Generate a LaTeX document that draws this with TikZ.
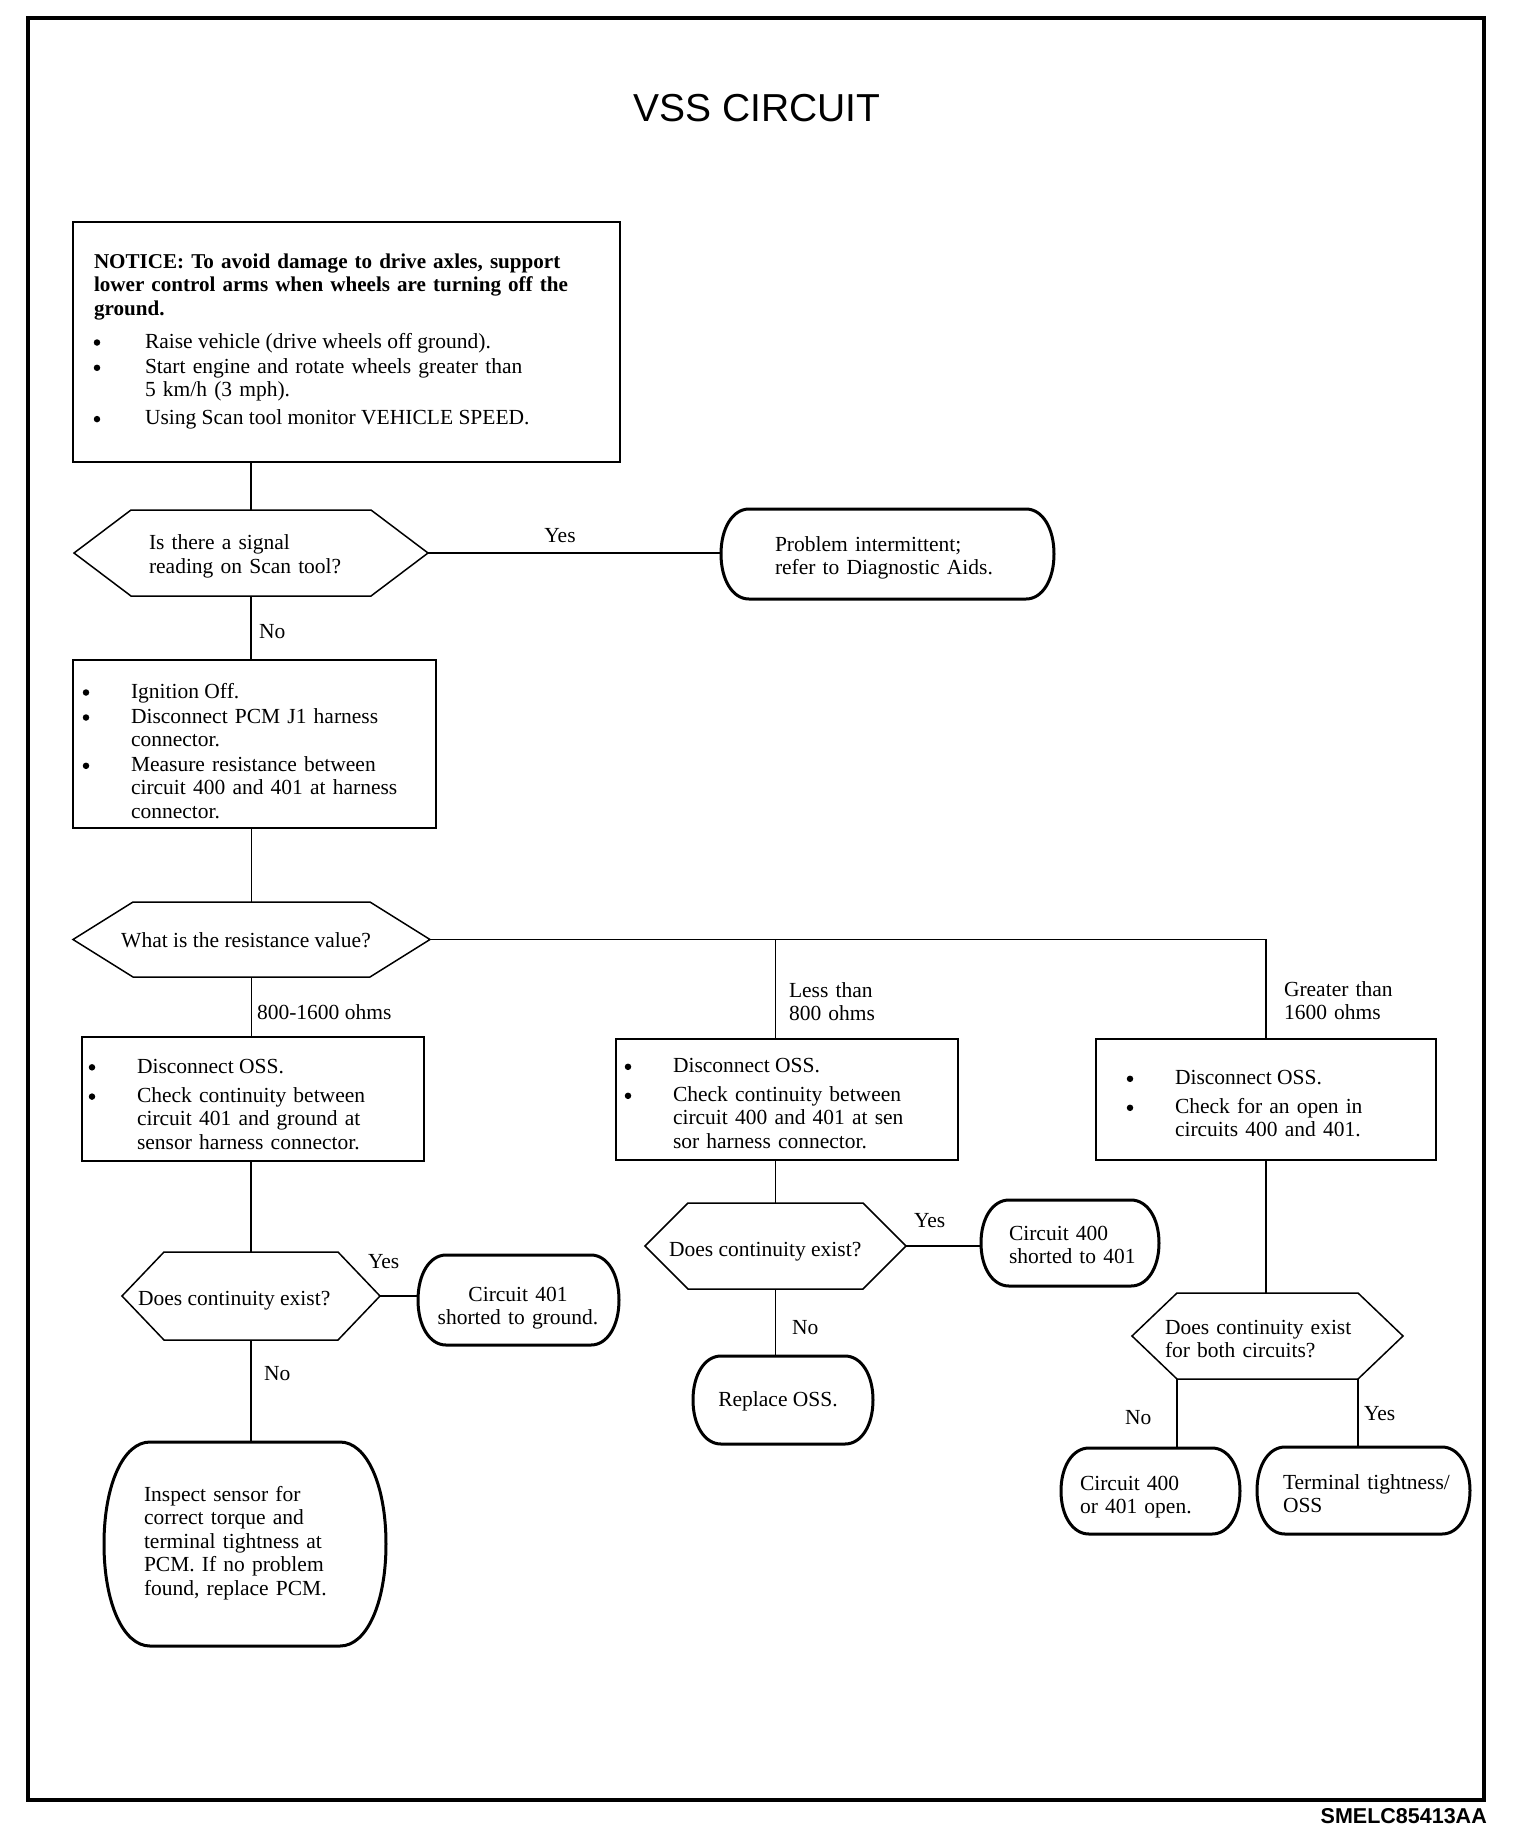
\documentclass[tikz,border=0pt]{standalone}
\usepackage{fontspec}
\setmainfont{Liberation Serif}
\newfontfamily\sansf{Liberation Sans}
\newcommand\bodyfont{\fontsize{21.5}{23.5}\selectfont}
\newcommand\boldbody{\bfseries\fontsize{21.1}{23.5}\selectfont}
\tikzset{
  shapebox/.style={draw=none, inner sep=0pt, outer sep=0pt},
  boxline/.style={draw, line width=1.7pt},
  hexline/.style={line width=1.5pt},
  termline/.style={line width=3pt},
  conn/.style={line width=1.6pt},
  txt/.style={inner sep=0pt, outer sep=0pt, font=\bodyfont, align=left},
  mtxt/.style={txt, text width=#1, anchor=base west, yshift=-2.3pt},
  lbl/.style={txt, anchor=mid west, yshift=-5.3pt},
  ctxt/.style={txt, anchor=mid, yshift=-5.3pt},
  bul/.style={circle, fill, draw=none, inner sep=0pt, minimum size=6.5pt, yshift=-1.8pt},
}
\newcommand\rbox[5]{%
  \node[shapebox, boxline, minimum width={#4-#2}, minimum height={#5-#3}] (#1) at ({(#2+#4)/2},{(#3+#5)/2}) {};}
\newcommand\hexa[6]{%
  \node[shapebox, minimum width={#4-#2}, minimum height={#5-#3}] (#1) at ({(#2+#4)/2},{(#3+#5)/2}) {};
  \draw[hexline] (#1.west) -- ([xshift=#6]#1.north west) -- ([xshift=-#6]#1.north east) -- (#1.east)
    -- ([xshift=-#6]#1.south east) -- ([xshift=#6]#1.south west) -- cycle;}
\newcommand\term[6]{%
  \node[shapebox, minimum width={#4-#2}, minimum height={#5-#3}] (#1) at ({(#2+#4)/2},{(#3+#5)/2}) {};
  \draw[termline, line join=round] ([xshift=#6]#1.north west) -- ([xshift=-#6]#1.north east)
    .. controls ([xshift={-0.42*#6}]#1.north east) and ([yshift={0.29*(#5-#3)}]#1.east) .. (#1.east)
    .. controls ([yshift={-0.29*(#5-#3)}]#1.east) and ([xshift={-0.42*#6}]#1.south east) .. ([xshift=-#6]#1.south east)
    -- ([xshift=#6]#1.south west)
    .. controls ([xshift={0.42*#6}]#1.south west) and ([yshift={-0.29*(#5-#3)}]#1.west) .. (#1.west)
    .. controls ([yshift={0.29*(#5-#3)}]#1.west) and ([xshift={0.42*#6}]#1.north west) .. ([xshift=#6]#1.north west)
    -- cycle;}
\begin{document}
\begin{tikzpicture}[x=1pt,y=-1pt]
\useasboundingbox (0,0) rectangle (1520,1842);
\draw[line width=4pt] (28,18) rectangle (1484,1800);

\node[inner sep=0pt, font=\sansf\fontsize{39}{40}\selectfont] (title) at (757,108) {VSS CIRCUIT};
\node[inner sep=0pt, anchor=east, font=\sansf\bfseries\fontsize{21.5}{22}\selectfont] (code) at (1487,1816) {SMELC85413AA};

% Notice box
\rbox{n0}{73}{222}{620}{462}
\node[mtxt=520pt, font=\boldbody] (n0t) at (94,266) {NOTICE: To avoid damage to drive axles, support\\lower control arms when wheels are turning off the\\ground.};
\node[bul] (n0b1) at (97,340.7) {};
\node[bul] (n0b2) at (97,366) {};
\node[bul] (n0b3) at (97,417.3) {};
\node[lbl] (n0i1) at (145,340.7) {Raise vehicle (drive wheels off ground).};
\node[mtxt=460pt] (n0i2) at (145,371) {Start engine and rotate wheels greater than\\5 km/h (3 mph).};
\node[lbl] (n0i3) at (145,417.3) {Using Scan tool monitor VEHICLE SPEED.};

% Decision 1
\hexa{h1}{74}{510}{428}{596}{57}
\node[mtxt=260pt] (h1t) at (149,547.5) {Is there a signal\\reading on Scan tool?};
\term{t1}{721}{509}{1054}{599}{28}
\node[mtxt=300pt] (t1t) at (775,549) {Problem intermittent;\\refer to Diagnostic Aids.};
\node[ctxt] (y1) at (560,535) {Yes};
\node[lbl] (no1) at (259,631) {No};

% Box 2
\rbox{b2}{73}{660}{436}{828}
\node[bul] (b2b1) at (86,690.7) {};
\node[bul] (b2b2) at (86,715.7) {};
\node[bul] (b2b3) at (86,764) {};
\node[lbl] (b2i1) at (131,690.7) {Ignition Off.};
\node[mtxt=300pt] (b2i2) at (131,721) {Disconnect PCM J1 harness\\connector.};
\node[mtxt=300pt] (b2i3) at (131,769) {Measure resistance between\\circuit 400 and 401 at harness\\connector.};

% Decision 2
\hexa{h2}{73}{902}{430}{977}{60}
\node[ctxt] (h2t) at (246,940) {What is the resistance value?};
\node[lbl] (l800) at (257,1012) {800-1600 ohms};
\node[mtxt=150pt] (lless) at (789,995) {Less than\\800 ohms};
\node[mtxt=150pt] (lgreat) at (1284,994) {Greater than\\1600 ohms};

% Box 3
\rbox{b3}{82}{1037}{424}{1161}
\node[bul] (b3b1) at (92,1065.5) {};
\node[bul] (b3b2) at (92,1094.8) {};
\node[lbl] (b3i1) at (137,1065.5) {Disconnect OSS.};
\node[mtxt=280pt] (b3i2) at (137,1100) {Check continuity between\\circuit 401 and ground at\\sensor harness connector.};

% Box 4
\rbox{b4}{616}{1039}{958}{1160}
\node[bul] (b4b1) at (628,1065) {};
\node[bul] (b4b2) at (628,1094) {};
\node[lbl] (b4i1) at (673,1065) {Disconnect OSS.};
\node[mtxt=280pt] (b4i2) at (673,1099) {Check continuity between\\circuit 400 and 401 at sen\\sor harness connector.};

% Box 5
\rbox{b5}{1096}{1039}{1436}{1160}
\node[bul] (b5b1) at (1130,1077) {};
\node[bul] (b5b2) at (1130,1106) {};
\node[lbl] (b5i1) at (1175,1077) {Disconnect OSS.};
\node[mtxt=250pt] (b5i2) at (1175,1111) {Check for an open in\\circuits 400 and 401.};

% Decision 3 (left)
\hexa{h3}{122}{1252}{380}{1340}{42}
\node[lbl] (h3t) at (138,1298) {Does continuity exist?};
\node[lbl] (y3) at (368,1261) {Yes};
\term{t2}{418}{1255}{619}{1345}{28}
\node[txt, text width=220pt, align=center, anchor=base, yshift=-2.3pt] (t2t) at (518,1299) {Circuit 401\\shorted to ground.};
\node[lbl] (no3) at (264,1373) {No};
\term{t3}{104}{1442}{386}{1646}{46}
\node[mtxt=240pt] (t3t) at (144,1499) {Inspect sensor for\\correct torque and\\terminal tightness at\\PCM. If no problem\\found, replace PCM.};

% Decision 4 (middle)
\hexa{h4}{645}{1203}{906}{1289}{43}
\node[lbl] (h4t) at (669,1249) {Does continuity exist?};
\node[lbl] (y4) at (914,1220) {Yes};
\term{t4}{981}{1200}{1159}{1286}{28}
\node[mtxt=150pt] (t4t) at (1009,1238) {Circuit 400\\shorted to 401};
\node[lbl] (no4) at (792,1327) {No};
\term{t5}{693}{1356}{873}{1444}{28}
\node[ctxt] (t5t) at (778,1399) {Replace OSS.};

% Decision 5 (right)
\hexa{h5}{1132}{1293}{1403}{1379}{45}
\node[mtxt=240pt] (h5t) at (1165,1332) {Does continuity exist\\for both circuits?};
\coordinate (h5bl) at ([xshift=45pt]h5.south west);
\coordinate (h5br) at ([xshift=-45pt]h5.south east);
\node[lbl] (no5) at (1125,1417) {No};
\node[lbl] (y5) at (1364,1413) {Yes};
\term{t6}{1061}{1448}{1240}{1534}{28}
\node[mtxt=160pt] (t6t) at (1080,1488) {Circuit 400\\or 401 open.};
\term{t7}{1257}{1447}{1470}{1534}{28}
\node[mtxt=200pt] (t7t) at (1283,1487) {Terminal tightness/\\OSS};

% Connectors
\draw[conn] (h1.north) -- (h1.north |- n0.south);
\draw[conn] (h1.east) -- (h1.east -| t1.west);
\draw[conn] (h1.south) -- (h1.south |- b2.north);
\draw[conn] (h2.north) -- (h2.north |- b2.south);
\draw[conn] (h2.east) -| (b5.north);
\draw[conn] (h4.north |- h2.east) -- (h4.north |- b4.north);
\draw[conn] (h2.south) -- (h2.south |- b3.north);
\draw[conn] (h3.north) -- (h3.north |- b3.south);
\draw[conn] (h3.east) -- (h3.east -| t2.west);
\draw[conn] (h3.south) -- (h3.south |- t3.north);
\draw[conn] (h4.north) -- (h4.north |- b4.south);
\draw[conn] (h4.east) -- (h4.east -| t4.west);
\draw[conn] (h4.south) -- (h4.south |- t5.north);
\draw[conn] (b5.south) -- (b5.south |- h5.north);
\draw[conn] (h5bl) -- (h5bl |- t6.north);
\draw[conn] (h5br) -- (h5br |- t7.north);
\end{tikzpicture}
\end{document}
